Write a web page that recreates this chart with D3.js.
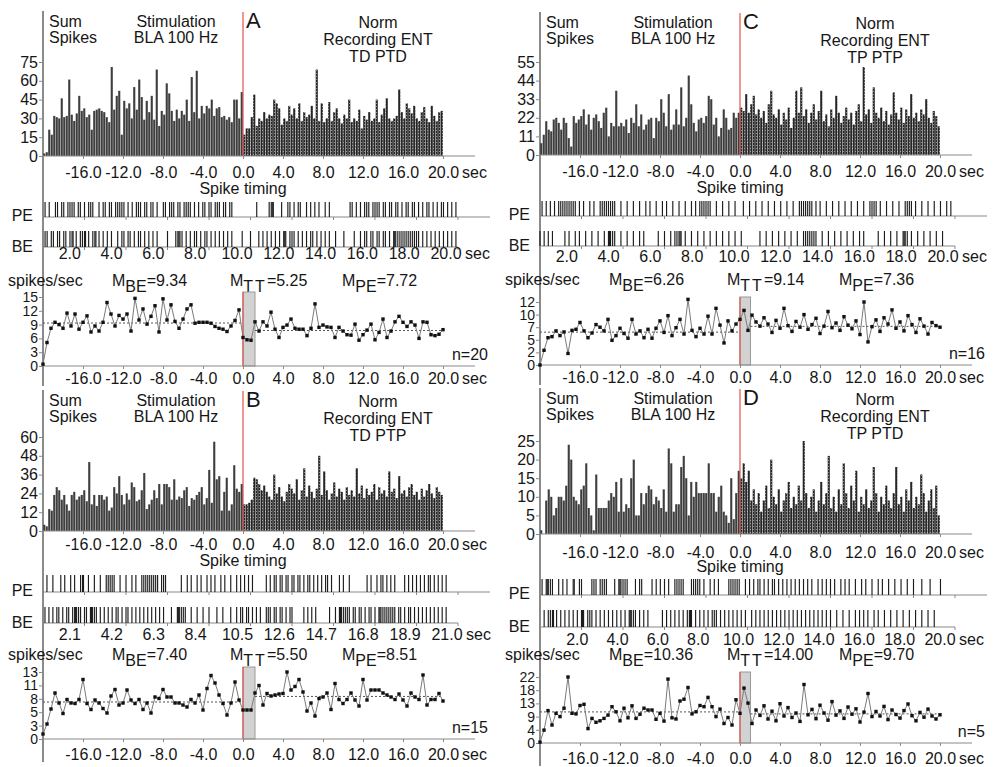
<!DOCTYPE html>
<html><head><meta charset="utf-8">
<script src="https://cdn.jsdelivr.net/npm/d3@7"></script>
<style>body{margin:0;background:#fff}svg text{font-family:Arial,"Liberation Sans",sans-serif;fill:#161616}</style>
</head><body><svg id="c" width="1007" height="767"></svg>
<script>
// ---------- DATA ----------
const timeTicks = [-16,-12,-8,-4,0,4,8,12,16,20];
const binWidth = 0.25;   // histogram bin (s)
const lineStep = 0.4;    // rate plot step (s)

const letters = ["A","B","C","D"];
const conditions = ["TD PTD","TD PTP","TP PTP","TP PTD"];
const meansBE = [9.34,7.40,6.26,10.36];
const meansTT = [5.25,5.50,9.14,14.00];
const meansPE = [7.72,8.51,7.36,9.70];
const nCounts = [20,15,16,5];

const histTicksA = [0,15,30,45,60,75];
const histTicksB = [0,12,24,36,48,60];
const histTicksC = [0,11,22,33,44,55];
const histTicksD = [0,5,10,15,20,25];

const lineTicksA = ["0","3","6","9","12","15"]; const lineMaxA = 15;
const lineTicksB = ["0","3","5","8","11","13"]; const lineMaxB = 13.4;
const lineTicksC = ["0","2","5","7","10","12"]; const lineMaxC = 12;
const lineTicksD = ["0","4","9","13","18","22"]; const lineMaxD = 22;

const rasterTicksA = [2.0,4.0,6.0,8.0,10.0,12.0,14.0,16.0,18.0,20.0];
const rasterTicksB = [2.1,4.2,6.3,8.4,10.5,12.6,14.7,16.8,18.9,21.0];
const rasterTicksC = [2.0,4.0,6.0,8.0,10.0,12.0,14.0,16.0,18.0,20.0];
const rasterTicksD = [2.0,4.0,6.0,8.0,10.0,12.0,14.0,16.0,18.0,20.0];

const histA_pre = [2,3,21,17,32,31,30,46,31,32, 61,33,28,34,48,36,38,31,33,21, 36,37,38,36,35,31,27,71,37,48,
 52,17,44,38,42,30,55,37,61,47, 29,44,35,48,29,69,24,36,33,58, 50,36,28,37,30,36,33,45,28,63,
 35,68,30,40,34,40,38,45,32,38, 39,31,32,29,31,27,45,45,30,51];
const histA_post = [17,22,22,31,49,24,30,28,35,30, 33,32,45,42,38,25,30,28,40,33, 38,30,42,28,35,31,33,40,30,69,
 28,42,27,30,43,28,35,38,30,26, 33,30,45,27,30,28,37,22,32,29, 35,28,30,45,27,33,38,46,30,28,
 30,32,53,35,30,42,38,34,40,30, 28,35,39,30,27,40,32,28,35,36];
const histB_pre = [4,3,14,13,23,28,26,20,23,17, 13,23,25,20,22,23,26,19,44,17, 23,16,23,23,20,22,13,15,28,24,
 35,23,17,24,20,31,28,19,20,26, 37,14,17,20,26,21,30,17,30,30, 28,20,33,20,22,21,26,28,16,21,
 20,23,25,28,17,21,39,18,57,33, 35,13,25,34,13,17,42,27,25,30];
const histB_post = [17,17,18,20,34,33,30,26,29,25, 22,20,36,24,28,22,19,25,30,27, 24,33,20,26,40,22,29,25,21,27,
 48,23,38,26,20,24,31,22,27,25, 20,28,23,26,22,40,24,29,21,27, 23,25,30,20,28,24,26,22,38,25,
 27,21,35,24,26,22,28,30,23,25, 20,27,22,26,30,24,21,28,25,23];
const histC_pre = [7,12,20,15,14,21,22,19,15,22, 19,10,5,23,19,21,23,27,18,24, 15,22,24,20,16,25,28,11,19,17,
 38,17,19,17,21,13,22,19,30,17, 24,15,18,21,22,10,22,20,33,25, 17,36,15,18,27,18,40,17,22,47,
 30,19,14,21,22,19,23,35,33,18, 22,11,16,27,22,15,16,25,22,25];
const histC_post = [28,26,36,25,30,35,24,27,22,26, 19,30,38,24,22,27,18,25,21,28, 16,22,38,25,40,23,27,19,25,30,
 21,26,38,20,24,17,27,22,35,25, 19,23,28,21,25,18,26,30,20,52, 24,27,19,40,25,22,28,20,26,18,
 24,37,25,21,28,19,27,23,36,22, 25,20,27,24,33,22,19,26,23,17];
const histD_pre = [1,0,9,12,10,5,7,10,10,9, 13,24,20,10,9,8,12,13,19,7, 5,1,16,7,7,7,7,9,11,10,
 14,6,15,6,8,7,15,20,5,5, 11,8,11,13,12,8,10,9,7,12, 6,23,19,6,8,8,18,21,15,5,
 14,10,14,11,11,11,11,19,11,11, 6,10,13,6,5,3,15,4,11,17];
const histD_post = [15,19,14,17,9,12,8,11,6,9, 13,7,20,10,8,12,6,9,11,14, 7,10,8,13,9,25,11,7,10,12,
 6,9,14,8,11,21,7,10,6,12, 8,19,11,7,13,9,17,6,10,8, 12,7,9,18,11,6,10,8,13,9,
 7,11,18,8,10,6,12,9,14,7, 10,8,16,11,6,9,12,7,13,5];

const lineA = [0.4,5.1,8.2,9.5,9.0,8.2,11.5,8.7,11.3,8.0, 9.5,10.9,7.4,8.7,7.6,9.5,13.8,11.3,8.7,11.0,
 10.2,11.3,7.6,14.7,10.0,12.4,9.1,10.8,13.1,7.4, 14.6,10.0,13.3,9.7,8.2,10.2,12.4,13.3,9.3,9.5,
 9.5,9.5,9.3,8.6,8.2,8.0,7.5,8.7,9.9,12.2,
 6.2,5.7,5.6,9.6,7.6,9.6,8.7,11.7,8.0,6.2, 8.4,8.9,10.2,8.2,8.0,8.0,6.6,8.2,13.5,8.4,
 8.9,8.5,8.4,6.2,8.4,7.6,6.8,6.7,9.1,5.6, 6.8,7.8,9.1,5.7,7.3,10.2,6.2,7.6,9.6,10.8,
 9.5,8.6,9.6,8.9,6.0,9.6,9.5,6.8,6.6,6.9, 7.9];
const lineB = [1.0,3.0,6.0,9.2,7.2,5.1,7.9,7.2,7.1,7.9, 11.9,7.1,5.9,7.8,7.2,6.1,5.2,8.6,9.9,6.8,
 7.2,9.8,7.8,7.1,7.9,5.9,7.2,5.2,8.4,8.1, 9.9,8.4,8.4,7.2,7.2,6.8,6.4,7.9,7.2,8.8,
 5.8,10.1,12.7,11.2,8.8,7.1,4.8,7.2,11.4,7.8,
 5.8,5.8,5.8,9.2,10.7,6.8,9.1,8.6,8.8,9.0, 9.1,13.4,9.8,10.5,11.9,9.4,5.6,7.2,4.6,8.1,
 8.4,9.2,5.9,11.1,7.9,7.1,7.9,9.2,7.8,6.6, 11.9,7.8,9.8,9.8,9.8,9.2,8.8,8.4,7.9,9.0,
 7.8,6.6,9.2,8.4,7.9,12.8,6.8,7.9,7.9,9.1, 7.6];
const lineC = [0,2.8,5.2,5.4,6.5,5.6,6.3,2.2,6.6,6.8, 8.1,6.5,5.2,6.1,7.7,7.2,6.5,8.7,4.7,5.6,
 7.0,6.0,5.1,8.7,5.9,6.5,5.2,6.8,5.1,7.0, 8.4,6.2,9.4,5.6,7.1,8.7,5.9,12.5,6.6,5.4,
 7.0,5.9,9.3,5.9,10.8,7.6,4.2,8.4,6.5,7.8,
 8.7,10.4,6.6,9.5,8.2,7.4,9.0,7.8,6.2,8.5, 7.0,10.8,7.5,6.4,8.3,7.2,9.6,6.8,7.7,8.9,
 6.0,7.4,10.2,7.1,8.0,6.6,9.2,7.6,6.9,8.4, 5.8,12.0,4.4,7.3,8.6,6.4,9.0,7.8,10.5,7.0,
 8.2,6.5,9.4,7.7,6.2,8.8,7.4,5.9,8.1,7.5, 7.2];
const lineD = [0.3,4.3,10.8,6.0,9.9,8.8,11.6,22,9.9,9.7, 12.5,12.9,4.8,8.2,6.9,7.4,8.2,9.3,12.1,10.4,
 7.4,11.6,8.4,12.4,8.2,9.6,11.6,11.0,11.0,7.9, 9.9,7.3,21.3,8.4,8.0,14.0,14.6,18.5,9.7,10.4,
 12.5,12.1,15.2,12.1,8.8,11.3,6.5,8.5,6.0,14.4,
 9.9,18.3,13.3,6.5,11.0,9.2,12.4,8.0,10.6,7.4, 13.1,9.0,11.8,8.5,10.0,7.2,19.5,9.4,11.2,8.1,
 12.6,10.0,7.6,13.8,9.3,10.7,8.2,12.0,9.6,11.4, 7.0,10.3,16.5,8.8,10.5,9.0,12.2,7.8,11.0,9.5,
 8.3,10.8,13.0,9.1,7.4,10.2,8.6,11.3,9.0,8.0, 9.4];

const rasterA_PE = [0.1,0.3,0.6,0.7,0.9,1.0,1.2,1.3,1.4,1.5,1.7,1.8,2.0,2.2,2.3,2.4,2.7,2.9,3.0,3.2,3.3,3.5,3.6,3.7,3.8,3.9,4.1,4.3,4.5,4.6,4.7,4.9,5.0,5.2,5.3,5.5,5.8,5.9,6.1,6.2,6.3,6.5,6.6,6.8,6.9,7.0,7.1,7.3,7.5,7.7,7.8,8.0,8.1,8.3,8.4,8.5,8.7,8.8,9.0,9.1,10.3,10.9,11.0,11.05,11.1,11.5,11.8,11.9,12.1,12.3,12.4,12.7,12.9,13.1,13.3,13.6,13.8,14.8,14.9,15.1,15.3,15.5,15.6,15.7,15.9,16.0,16.1,16.2,16.4,16.5,16.7,16.8,17.0,17.1,17.3,17.5,17.6,17.8,17.9,18.1,18.3,18.5,18.6,18.8,19.0,19.2,19.3,19.5,19.7,19.9];
const rasterA_BE = [0.1,0.2,0.4,0.5,0.7,0.8,1.0,1.1,1.3,1.4,1.45,1.6,1.8,1.9,2.0,2.05,2.2,2.4,2.5,2.55,2.7,2.9,3.1,3.3,3.6,3.8,3.9,4.1,4.2,4.4,4.6,4.7,4.9,5.1,5.3,5.5,6.0,6.4,6.5,6.55,6.6,6.7,6.9,7.1,7.3,7.4,7.6,7.8,7.9,8.1,8.3,8.5,8.7,8.9,9.1,9.6,10.0,10.4,10.6,10.8,11.0,11.2,11.4,11.6,11.65,11.7,11.9,12.0,12.1,12.3,12.5,12.7,12.9,13.0,13.2,13.4,13.6,13.8,14.1,14.5,15.0,15.3,15.5,15.6,15.8,15.9,16.1,16.2,16.4,16.5,16.7,16.9,16.95,17.0,17.1,17.2,17.3,17.4,17.5,17.6,17.7,17.8,17.9,18.0,18.1,18.3,18.5,18.7,18.9,19.1,19.3,19.5,19.7,19.9];
const rasterB_PE = [0.2,0.5,0.9,1.1,1.4,1.6,1.9,2.0,2.05,2.3,2.6,2.9,3.2,3.3,3.4,3.5,3.6,3.9,4.2,4.5,4.7,5.0,5.1,5.2,5.3,5.4,5.5,5.6,5.7,5.8,6.0,6.1,6.2,7.0,7.3,7.5,7.8,8.0,8.3,8.5,8.7,9.0,9.2,9.5,9.8,10.0,10.2,10.4,10.6,11.3,11.5,11.7,11.8,12.0,12.1,12.3,12.4,12.6,12.7,12.9,13.0,13.2,13.4,13.5,13.7,13.9,14.1,14.3,14.4,14.6,15.0,15.2,15.5,16.4,16.6,16.9,17.1,17.2,17.4,17.6,17.8,18.3,18.5,18.7,18.9,19.1,19.3,19.5,19.6,19.8,20.0,20.2,20.4];
const rasterB_BE = [0.1,0.3,0.5,0.7,0.8,1.0,1.2,1.3,1.5,1.6,1.65,1.7,1.8,1.9,2.1,2.2,2.4,2.45,2.5,2.6,2.7,2.9,3.1,3.3,3.5,3.7,3.8,4.0,4.2,4.3,4.5,4.7,4.9,5.1,5.3,5.5,5.7,5.9,6.1,6.5,6.8,6.85,6.9,7.0,7.1,7.2,7.5,7.8,8.1,8.4,8.8,9.1,9.5,9.8,10.0,10.1,10.3,10.4,10.6,10.8,11.0,11.3,11.4,11.5,11.7,11.8,12.0,12.1,12.3,12.5,12.6,13.2,13.4,13.6,13.8,14.5,14.8,15.0,15.05,15.1,15.2,15.3,15.4,15.5,15.7,15.8,16.0,16.1,16.3,16.5,16.6,16.8,17.0,17.05,17.1,17.2,17.3,17.4,17.5,17.6,17.7,17.8,18.0,18.1,18.3,18.5,18.6,18.8,19.0,19.2,19.4,19.6,19.8,20.0,20.2,20.4];
const rasterC_PE = [0.1,0.3,0.5,0.7,0.9,1.0,1.1,1.2,1.3,1.4,1.5,1.6,1.7,1.9,2.1,2.4,2.6,2.9,3.0,3.1,3.2,3.3,3.4,3.5,3.6,3.9,4.2,4.5,4.8,5.1,5.3,5.6,5.9,6.1,6.4,6.7,7.0,7.3,7.5,7.7,7.8,7.9,8.0,8.1,8.2,8.5,8.8,9.1,9.4,9.8,10.1,10.4,10.7,11.0,11.3,11.6,11.9,12.2,12.5,12.6,12.7,12.8,12.9,13.0,13.1,13.3,13.5,13.8,14.1,14.4,14.7,15.0,15.3,15.6,15.9,16.0,16.1,16.2,16.4,16.7,17.0,17.3,17.6,17.7,17.8,17.9,18.1,18.4,18.7,19.0,19.3,19.6,19.8];
const rasterC_BE = [0.0,0.2,0.4,0.6,1.2,1.4,1.7,1.9,2.2,2.5,2.8,3.1,3.3,3.35,3.4,3.5,3.6,3.9,4.2,4.5,4.8,5.0,5.7,6.0,6.3,6.5,6.6,6.7,6.75,6.8,7.0,7.3,7.6,7.9,8.2,8.5,8.8,9.1,9.4,9.7,10.6,10.9,11.2,11.5,11.8,12.1,12.4,12.7,12.8,12.9,13.0,13.1,13.2,13.3,13.6,13.9,14.2,14.5,14.8,15.1,15.4,15.6,16.3,16.6,16.9,17.2,17.5,17.55,17.6,17.7,17.9,18.2,18.5,18.8,19.1,19.4];
const rasterD_PE = [0.1,0.3,0.35,0.4,0.5,0.6,0.9,1.1,1.3,1.6,1.65,1.9,2.0,2.5,2.6,2.7,2.9,3.0,3.1,3.2,3.6,3.8,3.85,3.9,4.0,4.1,4.2,4.6,4.8,4.9,5.4,5.6,5.8,6.0,6.2,6.5,6.6,6.7,6.8,6.9,7.3,7.4,7.5,7.6,7.7,7.9,8.2,8.4,8.6,9.1,9.2,9.3,9.4,9.5,9.6,9.9,10.1,10.3,10.5,10.6,10.8,11.0,11.2,11.3,11.5,11.7,11.9,12.1,12.3,12.5,12.7,12.9,13.1,13.4,13.6,13.8,14.0,14.2,14.5,14.7,14.9,15.2,15.5,15.7,16.0,16.3,16.5,16.8,17.1,17.4,17.7,18.0,18.4,18.8,19.3];
const rasterD_BE = [0.2,0.4,0.5,0.6,0.65,0.8,1.0,1.2,1.4,1.6,1.8,2.0,2.05,2.1,2.3,2.4,2.5,2.7,2.9,3.1,3.3,3.5,3.7,3.9,4.1,4.3,4.35,4.4,4.5,4.6,4.8,5.0,5.2,5.9,6.1,6.3,6.5,6.7,6.9,7.1,7.2,7.25,7.3,7.5,7.7,7.9,8.1,8.3,8.4,8.5,8.7,8.9,9.1,9.3,9.5,9.7,9.9,10.2,10.4,10.6,10.8,11.0,11.2,11.4,11.6,11.8,12.0,12.2,12.4,12.6,12.8,13.0,13.2,13.4,13.6,13.8,14.0,14.3,14.6,14.9,15.2,15.4,15.6,15.8,16.1,16.3,16.6,16.9,17.2,17.5,17.8,18.1,18.4,18.7,19.0];

// ---------- LAYOUT ----------
const panels = [
 {i:0, ox:0, histPre:histA_pre, histPost:histA_post, histTicks:histTicksA, line:lineA, lineTicks:lineTicksA, lineMax:lineMaxA,
  pe:rasterA_PE, be:rasterA_BE, rTicks:rasterTicksA, tt:1.2, rLab:[-15,403],
  y:{top:27,histBase:156,histTop:62,histLab:178,spike:194,pe:[202,217],be:[231,247],rLab:259,head:286,lTop:297,lBase:366,lLab:384}},
 {i:1, ox:0, histPre:histB_pre, histPost:histB_post, histTicks:histTicksB, line:lineB, lineTicks:lineTicksB, lineMax:lineMaxB,
  pe:rasterB_PE, be:rasterB_BE, rTicks:rasterTicksB, tt:1.2, rLab:[-15,404],
  y:{top:406,histBase:531,histTop:437,histLab:550,spike:566,pe:[575,592],be:[607,623],rLab:640,head:660,lTop:672,lBase:739,lLab:760}},
 {i:2, ox:497, histPre:histC_pre, histPost:histC_post, histTicks:histTicksC, line:lineC, lineTicks:lineTicksC, lineMax:lineMaxC,
  pe:rasterC_PE, be:rasterC_BE, rTicks:rasterTicksC, tt:1.05, rLab:[-15,403],
  y:{top:28,histBase:155,histTop:62,histLab:177,spike:193,pe:[201,216],be:[231,246],rLab:262,head:285,lTop:302,lBase:365,lLab:383}},
 {i:3, ox:497, histPre:histD_pre, histPost:histD_post, histTicks:histTicksD, line:lineD, lineTicks:lineTicksD, lineMax:lineMaxD,
  pe:rasterD_PE, be:rasterD_BE, rTicks:rasterTicksD, tt:1.05, rLab:[-3,400],
  y:{top:404,histBase:534,histTop:441,histLab:558,spike:572,pe:[579,595],be:[610,627],rLab:645,head:660,lTop:677,lBase:743,lLab:764}}
];

const svg = d3.select("#c");
const defs = svg.append("defs");
const pat = defs.append("pattern").attr("id","stip").attr("width",3).attr("height",3).attr("patternUnits","userSpaceOnUse");
pat.append("rect").attr("width",3).attr("height",3).attr("fill","#262626");
pat.append("rect").attr("x",1).attr("y",1).attr("width",1).attr("height",1).attr("fill","#8c8c8c");

const fmtT = v => v.toFixed(1);
const AX = "#8a8a8a";

panels.forEach(p => {
  const g = svg.append("g").attr("transform", `translate(${p.ox},0)`);
  const X0 = 43, Y = p.y;
  const x = d3.scaleLinear().domain([-20,20]).range([X0, X0+400]);
  const yh = d3.scaleLinear().domain([0, d3.max(p.histTicks)]).range([Y.histBase, Y.histTop]);
  const yl = d3.scaleLinear().domain([0, p.lineMax]).range([Y.lBase, Y.lTop]);
  const rMax = p.rTicks[p.rTicks.length-1];
  const xr = d3.scaleLinear().domain([0, rMax]).range([X0, X0+415]);
  const xrl = d3.scaleLinear().domain([0, rMax]).range([X0+p.rLab[0], X0+p.rLab[1]]);
  const txt = (xx,yy,s,anchor="start",size=16) => g.append("text").attr("x",xx).attr("y",yy)
      .attr("text-anchor",anchor).attr("font-size",size).text(s);

  // left vertical axis
  g.append("line").attr("x1",X0).attr("x2",X0).attr("y1",Y.top-16).attr("y2",Y.lLab+2)
    .attr("stroke",AX).attr("stroke-width",2);

  // titles
  txt(X0+6, Y.top, "Sum"); txt(X0+6, Y.top+16, "Spikes");
  txt(X0+133, Y.top, "Stimulation","middle"); txt(X0+133, Y.top+16, "BLA 100 Hz","middle");
  txt(X0+203, Y.top+1, letters[p.i], "start", 22);
  txt(X0+335, Y.top+1, "Norm","middle"); txt(X0+335, Y.top+18, "Recording ENT","middle");
  txt(X0+335, Y.top+35, conditions[p.i],"middle");

  // histogram
  const bw = x(binWidth) - x(0);
  g.append("g").selectAll("rect").data(p.histPre).join("rect")
    .attr("x",(d,i)=>x(-20+i*binWidth)+0.2).attr("width",bw-0.4)
    .attr("y",d=>yh(d)).attr("height",d=>Y.histBase-yh(d)).attr("fill","#3e3e3e");
  g.append("g").selectAll("rect").data(p.histPost).join("rect")
    .attr("x",(d,i)=>x(i*binWidth)+0.2).attr("width",bw-0.4)
    .attr("y",d=>yh(d)).attr("height",d=>Y.histBase-yh(d)).attr("fill","url(#stip)");
  g.append("line").attr("x1",x(0)).attr("x2",x(0)).attr("y1",Y.top-15).attr("y2",Y.histBase)
    .attr("stroke","#e2534f").attr("stroke-width",1.2);

  const yAxisH = g.append("g").attr("transform",`translate(${X0},0)`)
    .call(d3.axisLeft(yh).tickValues(p.histTicks).tickSize(4).tickPadding(1));
  styleAxis(yAxisH, 16);
  g.append("line").attr("x1",X0).attr("x2",X0+432).attr("y1",Y.histBase).attr("y2",Y.histBase).attr("stroke",AX).attr("stroke-width",1.2);
  const xAxisH = g.append("g").attr("transform",`translate(0,${Y.histBase})`)
    .call(d3.axisBottom(x).tickValues(timeTicks).tickFormat(fmtT).tickSize(3));
  styleAxis(xAxisH, 16);
  xAxisH.selectAll("text").attr("y", Y.histLab-Y.histBase).attr("dy",null);
  txt(x(20)+19, Y.histLab, "sec");
  txt(x(0), Y.spike, "Spike timing", "middle");

  // raster
  txt(X0-10, Y.pe[1]+4, "PE", "end"); txt(X0-10, Y.be[1]+5, "BE", "end");
  g.append("line").attr("x1",X0).attr("x2",X0+447).attr("y1",Y.pe[1]).attr("y2",Y.pe[1]).attr("stroke",AX).attr("stroke-width",1.2);
  g.append("line").attr("x1",X0).attr("x2",X0+415).attr("y1",Y.be[1]).attr("y2",Y.be[1]).attr("stroke",AX).attr("stroke-width",1.2);
  g.append("g").selectAll("line").data(p.pe).join("line")
    .attr("x1",d=>xr(d)).attr("x2",d=>xr(d)).attr("y1",Y.pe[0]).attr("y2",Y.pe[1]).attr("stroke","#1c1c1c").attr("stroke-width",1.15);
  g.append("g").selectAll("line").data(p.be).join("line")
    .attr("x1",d=>xr(d)).attr("x2",d=>xr(d)).attr("y1",Y.be[0]).attr("y2",Y.be[1]).attr("stroke","#1c1c1c").attr("stroke-width",1.15);
  [Y.pe[1], Y.be[1]].forEach(yy => {
    g.append("g").selectAll("line").data(p.rTicks).join("line")
      .attr("x1",d=>xr(d)).attr("x2",d=>xr(d)).attr("y1",yy).attr("y2",yy+3).attr("stroke",AX);
  });
  g.append("g").selectAll("text").data(p.rTicks).join("text")
    .attr("x",d=>xrl(d)).attr("y",Y.rLab).attr("text-anchor","middle").attr("font-size",16).text(fmtT);
  txt(xrl(rMax)+19, Y.rLab, "sec");

  // rate header
  txt(X0-35, Y.head, "spikes/sec");
  const mlab = (xx, sub, val) => {
    const t = g.append("text").attr("x",xx).attr("y",Y.head).attr("font-size",16);
    t.append("tspan").text("M");
    t.append("tspan").attr("dy",6).attr("letter-spacing", sub==="TT"?2:0).text(sub);
    t.append("tspan").attr("dy",-6).text("=" + val.toFixed(2));
  };
  mlab(X0+69, "BE", meansBE[p.i]);
  mlab(x(0)-13, "TT", meansTT[p.i]);
  mlab(X0+299, "PE", meansPE[p.i]);

  // rate plot
  g.append("rect").attr("x",x(0)).attr("width",x(p.tt)-x(0)).attr("y",Y.lTop-5).attr("height",Y.lBase-Y.lTop+5)
    .attr("fill","#d2d2d2").attr("stroke","#9a9a9a").attr("stroke-width",1);
  g.append("line").attr("x1",x(0)).attr("x2",x(0)).attr("y1",Y.lTop-5).attr("y2",Y.lBase).attr("stroke","#e2534f").attr("stroke-width",1.2);
  const yAxisL = g.append("g").attr("transform",`translate(${X0},0)`)
    .call(d3.axisLeft(yl).tickValues(p.lineTicks.map((_,k)=>p.lineMax*k/5)).tickFormat((d,k)=>p.lineTicks[k]).tickSize(4).tickPadding(1));
  styleAxis(yAxisL, 14);
  g.append("line").attr("x1",X0).attr("x2",X0+432).attr("y1",Y.lBase).attr("y2",Y.lBase).attr("stroke",AX).attr("stroke-width",1.2);
  const xAxisL = g.append("g").attr("transform",`translate(0,${Y.lBase})`)
    .call(d3.axisBottom(x).tickValues(timeTicks).tickFormat(fmtT).tickSize(3));
  styleAxis(xAxisL, 16);
  xAxisL.selectAll("text").attr("y", Y.lLab-Y.lBase).attr("dy",null);
  txt(x(20)+19, Y.lLab, "sec");
  // mean lines
  g.append("line").attr("x1",x(-20)).attr("x2",x(0)).attr("y1",yl(meansBE[p.i])).attr("y2",yl(meansBE[p.i]))
    .attr("stroke","#555").attr("stroke-dasharray","2,2");
  g.append("line").attr("x1",x(p.tt)).attr("x2",x(20)).attr("y1",yl(meansPE[p.i])).attr("y2",yl(meansPE[p.i]))
    .attr("stroke","#555").attr("stroke-dasharray","2,2");
  const pts = p.line.map((v,k)=>[-20+k*lineStep, v]);
  g.append("path").attr("d", d3.line().x(d=>x(d[0])).y(d=>yl(d[1]))(pts))
    .attr("fill","none").attr("stroke","#7a7a7a").attr("stroke-width",1);
  g.append("g").selectAll("rect").data(pts).join("rect")
    .attr("x",d=>x(d[0])-1.7).attr("y",d=>yl(d[1])-1.7).attr("width",3.4).attr("height",3.4).attr("fill","#111");
  txt(X0+445, Y.lBase-6, "n=" + nCounts[p.i], "end");
});

function styleAxis(a, fs){
  a.attr("font-family",null).attr("font-size",fs);
  a.select(".domain").remove();
  a.selectAll(".tick line").attr("stroke",AX);
  a.selectAll(".tick text").attr("fill","#161616");
}
</script></body></html>
